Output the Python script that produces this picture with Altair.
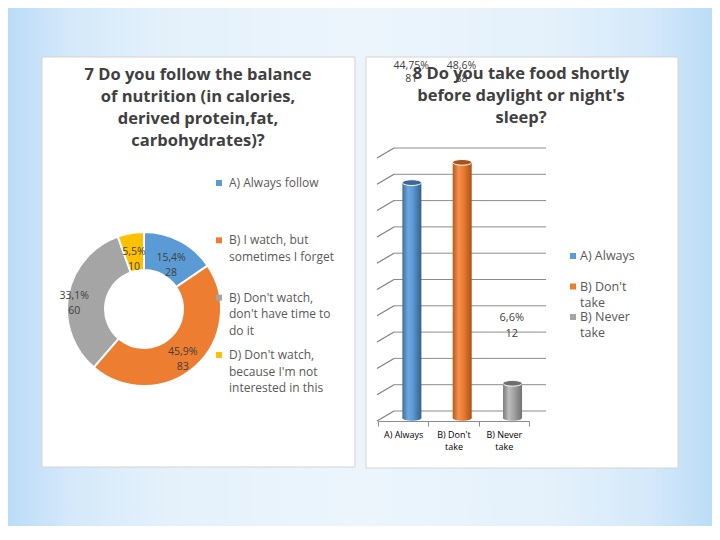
import altair as alt
import pandas as pd

# ---------------- data ----------------
left_title = ["7 Do you follow the balance", "of  nutrition (in calories,",
              "derived protein,fat,", "carbohydrates)?"]
donut_categories = ["A) Always follow",
                    "B) I watch, but\nsometimes I forget",
                    "B) Don't watch,\ndon't have time to\ndo it",
                    "D) Don't watch,\nbecause I'm not\ninterested in this"]
donut_counts = [28, 83, 60, 10]
donut_pct_labels = ["15,4%", "45,9%", "33,1%", "5,5%"]

right_title = ["8 Do you take food shortly", "before daylight or night's", "sleep?"]
bar_categories = ["A) Always", "B) Don't\ntake", "B) Never\ntake"]
bar_percents = [44.75, 48.6, 6.6]
bar_counts = [81, 88, 12]
bar_pct_labels = ["44,75%", "48,6%", "6,6%"]
bar_grid_ticks = [0, 5, 10, 15, 20, 25, 30, 35, 40, 45, 50]

# ---------------- styles ----------------
BLUE, ORANGE, GRAY, YELLOW = "#5B9BD5", "#ED7D31", "#A5A5A5", "#FFC000"
W, H = 352, 518
FONT = "Open Sans"
TXT = "#404040"


def grad(stops, x1=0, x2=1):
    return alt.Gradient(gradient="linear", x1=x1, x2=x2, y1=0, y2=0,
                        stops=[alt.GradientStop(offset=o, color=c) for o, c in stops])


bg_stops = [(0, "#BBDCF7"), (0.18, "#D5E9FA"), (0.45, "#E4F1FB"), (1, "#ECF5FC")]
bg_left = grad(bg_stops)
bg_right = grad([(1 - o, c) for o, c in bg_stops][::-1])

bar_grads = [
    grad([(0, "#3F6E9C"), (0.3, "#6FA8DE"), (0.55, "#5B9BD5"), (1, "#355F88")]),
    grad([(0, "#B55A1C"), (0.3, "#F4914D"), (0.55, "#ED7D31"), (1, "#A9521A")]),
    grad([(0, "#7A7A7A"), (0.3, "#BDBDBD"), (0.55, "#A5A5A5"), (1, "#717171")]),
]
cap_colors = ["#3A6793", "#A8531B", "#6E6E6E"]
ELLIPSE = "M-1,0A1,0.3,0,1,1,1,0A1,0.3,0,1,1,-1,0Z"

one = pd.DataFrame({"k": [0]})

# ================= LEFT PANEL (donut) =================
ddf = pd.DataFrame({"idx": list(range(len(donut_categories))),
                    "cat": donut_categories,
                    "count": donut_counts,
                    "pct": donut_pct_labels})
ddf["label"] = ddf["pct"] + "\n" + ddf["count"].astype(str)

bg_l = alt.Chart(one).mark_rect(fill=bg_left).encode(
    x=alt.value(0), x2=alt.value(W), y=alt.value(0), y2=alt.value(H))
card_l = alt.Chart(one).mark_rect(fill="white", stroke="#D4D4D4", strokeWidth=1).encode(
    x=alt.value(34), x2=alt.value(347), y=alt.value(49), y2=alt.value(459))
title_l = alt.Chart(one).mark_text(
    text=left_title, font=FONT, fontSize=16.5, fontWeight="bold", color=TXT,
    align="center", baseline="top", lineHeight=22).encode(
    x=alt.value(190), y=alt.value(59))

arcs = alt.Chart(ddf).mark_arc(innerRadius=39, outerRadius=77, stroke="white",
                               strokeWidth=2).encode(
    theta=alt.Theta("count:Q", stack=True),
    order=alt.Order("idx:Q"),
    x=alt.value(136), y=alt.value(301),
    color=alt.Color("cat:N", scale=alt.Scale(domain=donut_categories,
                                             range=[BLUE, ORANGE, GRAY, YELLOW]),
                    legend=None))
dlabels = alt.Chart(ddf).transform_joinaggregate(
    total="sum(count)").transform_window(
    cum="sum(count)", sort=[alt.SortField("idx")]).transform_calculate(
    mid="(datum.cum - datum.count / 2) / datum.total * 2 * PI",
    lr="datum.idx == 2 ? 71 : 58").mark_text(
    font=FONT, fontSize=10.5, color=TXT, align="center",
    baseline="middle", lineBreak="\n", lineHeight=15).encode(
    theta=alt.Theta("mid:Q", scale=None, stack=False),
    radius=alt.Radius("lr:Q", scale=None),
    x=alt.value(136), y=alt.value(301),
    text="label:N")

ly = alt.Y("cat:N", scale=alt.Scale(type="point", domain=donut_categories,
                                    range=[175, 347], padding=0), axis=None)
leg_sq_l = alt.Chart(ddf).mark_square(size=36, opacity=1).encode(
    y=ly, x=alt.value(211),
    color=alt.Color("cat:N", scale=alt.Scale(domain=donut_categories,
                                             range=[BLUE, ORANGE, GRAY, YELLOW]),
                    legend=None))
leg_tx_l = alt.Chart(ddf).mark_text(font=FONT, fontSize=12, color="#595959", align="left",
                                    baseline="top", dy=-5, lineBreak="\n",
                                    lineHeight=16.7).encode(
    y=ly, x=alt.value(221), text="cat:N")

left = alt.layer(bg_l, card_l, title_l, arcs, dlabels, leg_sq_l, leg_tx_l).properties(
    width=W, height=H)

# ================= RIGHT PANEL (3D bars) =================
bdf = pd.DataFrame({"idx": list(range(len(bar_categories))),
                    "cat": bar_categories,
                    "pct": bar_percents,
                    "count": bar_counts,
                    "pctlab": bar_pct_labels})
bdf["label"] = bdf["pctlab"] + "\n" + bdf["count"].astype(str)
gdf = pd.DataFrame({"v": bar_grid_ticks})

YFRONT0, YFRONT50 = 413, 150
xsc = alt.Scale(domain=bar_categories, range=[18, 169], paddingInner=0, paddingOuter=0)
ysc = alt.Scale(domain=[0, 50], range=[YFRONT0, YFRONT50])
xaxis = alt.Axis(title=None, offset=YFRONT0 - H, domainColor="#8C8C8C", tickColor="#8C8C8C",
                 tickBand="extent", tickSize=5, labelPadding=4, labelFont=FONT,
                 labelFontSize=9, labelColor="#000000", labelAngle=0,
                 labelExpr="split(datum.label, '\\n')", labelLineHeight=12,
                 labelBaseline="top", grid=False, zindex=2)
X = alt.X("cat:N", scale=xsc, axis=xaxis, sort=bar_categories)

bg_r = alt.Chart(one).mark_rect(fill=bg_right).encode(
    x=alt.value(0), x2=alt.value(W), y=alt.value(0), y2=alt.value(H))
card_r = alt.Chart(one).mark_rect(fill="white", stroke="#D4D4D4", strokeWidth=1).encode(
    x=alt.value(6), x2=alt.value(318), y=alt.value(49), y2=alt.value(460))

grid = alt.Chart(gdf).mark_rule(color="#8C8C8C", strokeWidth=1, yOffset=-10).encode(
    y=alt.Y("v:Q", scale=ysc, axis=None), x=alt.value(34), x2=alt.value(186))
diag = alt.Chart(gdf).mark_rule(color="#7F7F7F", strokeWidth=1.2, y2Offset=-10).encode(
    y=alt.Y("v:Q", scale=ysc, axis=None), y2=alt.Y2("v:Q"),
    x=alt.value(17), x2=alt.value(34))

bar_layers = []
for i in range(len(bar_categories)):
    src = alt.Chart(bdf).transform_filter(alt.datum.idx == i)
    bottom = src.mark_point(shape=ELLIPSE, size=361, filled=True, fill=bar_grads[i],
                            opacity=1, xOffset=8.7, yOffset=-3).encode(
        x=X, y=alt.YDatum(0, scale=ysc, axis=None))
    body = src.mark_bar(size=19, fill=bar_grads[i], xOffset=8.7, yOffset=-3,
                        y2Offset=-3).encode(
        x=X, y=alt.Y("pct:Q", scale=ysc, axis=None), y2=alt.Y2Datum(0))
    cap = src.mark_point(shape=ELLIPSE, size=361, filled=True, fill=cap_colors[i],
                         stroke="#FFFFFF", strokeWidth=1, opacity=1, xOffset=8.7,
                         yOffset=-3).encode(
        x=X, y=alt.Y("pct:Q", scale=ysc, axis=None))
    bar_layers += [bottom, body, cap]

top_labels = alt.Chart(bdf).transform_filter(alt.datum.idx < 2).mark_text(
    font=FONT, fontSize=10.5, color=TXT, align="center", baseline="top",
    lineBreak="\n", lineHeight=13, xOffset=8).encode(
    x=X, y=alt.value(53), text="label:N")
low_label = alt.Chart(bdf).transform_filter(alt.datum.idx == 2).mark_text(
    font=FONT, fontSize=11, color=TXT, align="center", baseline="top",
    lineBreak="\n", lineHeight=16, xOffset=8, dy=-74).encode(
    x=X, y=alt.Y("pct:Q", scale=ysc, axis=None), text="label:N")

title_r = alt.Chart(one).mark_text(
    text=right_title, font=FONT, fontSize=16.5, fontWeight="bold", color=TXT,
    align="center", baseline="top", lineHeight=22).encode(
    x=alt.value(161), y=alt.value(58))

ry = alt.Y("cat:N", scale=alt.Scale(type="point", domain=bar_categories,
                                    range=[248, 309], padding=0), axis=None)
leg_sq_r = alt.Chart(bdf).mark_square(size=36, opacity=1).encode(
    y=ry, x=alt.value(213),
    color=alt.Color("cat:N", scale=alt.Scale(domain=bar_categories,
                                             range=[BLUE, ORANGE, GRAY]), legend=None))
leg_tx_r = alt.Chart(bdf).mark_text(font=FONT, fontSize=12.5, color="#595959", align="left",
                                    baseline="top", dy=-6, lineBreak="\n",
                                    lineHeight=16).encode(
    y=ry, x=alt.value(220), text="cat:N")

right = alt.layer(bg_r, card_r, grid, diag, *bar_layers, top_labels, low_label,
                  title_r, leg_sq_r, leg_tx_r).resolve_scale(y="independent").properties(
    width=W, height=H)

chart = alt.hconcat(left, right, spacing=0).properties(
    padding=0, background="#EAF4FC").configure_view(stroke=None)

chart.save("out.html", embed_options={"renderer": "svg", "actions": False})
